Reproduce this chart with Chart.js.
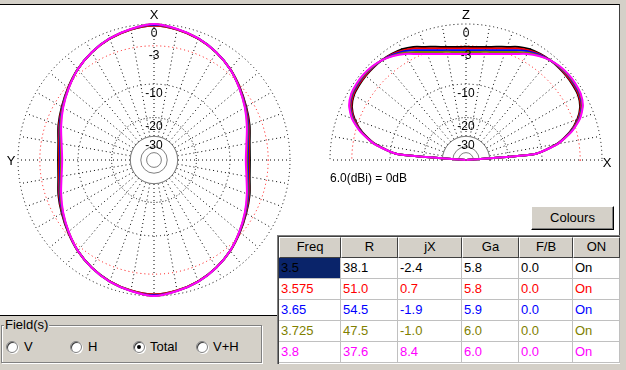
<!DOCTYPE html>
<html>
<head>
<meta charset="utf-8">
<title>Pattern</title>
<script src="https://cdn.jsdelivr.net/npm/chart.js@4.4.1/dist/chart.umd.min.js"></script>
<style>
  body { margin: 0; width: 626px; height: 370px; overflow: hidden; position: relative;
         background: #d4d0c8; font-family: "Liberation Sans", Arial, sans-serif; font-size: 13px; color: #000; }
  .white { position: absolute; background: #fff; }
  .lbl { position: absolute; transform: translate(-50%, -50%); font-size: 13px; line-height: 13px; white-space: nowrap; }
  #elevBox { position: absolute; left: 322px; top: 16px; width: 288px; height: 145px; overflow: hidden; }
  #elCanvas { position: absolute; left: 0; top: 0; }
  #azCanvas { position: absolute; left: 10px; top: 16px; }
  #table { position: absolute; left: 277px; top: 235px; width: 343px; height: 129px;
           border-top: 1px solid #808080; border-left: 1px solid #808080; background: #fff; box-sizing: border-box;
           box-shadow: inset 1px 1px 0 #404040; }
  .cell { position: absolute; box-sizing: border-box; border-right: 1px solid #c0c0c0; border-bottom: 1px solid #c0c0c0;
          padding-left: 2px; line-height: 20px; white-space: nowrap; overflow: hidden; }
  .head { background: #d4d0c8; text-align: center; padding-left: 0; line-height: 18px;
          border-top: 1px solid #fff; border-left: 1px solid #fff; border-right: 1px solid #404040; border-bottom: 1px solid #404040; }
  #colours { position: absolute; left: 531px; top: 206px; width: 83px; height: 24px; box-sizing: border-box;
             background: #d4d0c8; border-top: 1px solid #fff; border-left: 1px solid #fff;
             border-right: 1px solid #000; border-bottom: 1px solid #000; box-shadow: inset -1px -1px 0 #808080;
             text-align: center; line-height: 21px; }
  #group { position: absolute; left: 1px; top: 325px; width: 261px; height: 38px; box-sizing: border-box;
           border: 1px solid #808080; box-shadow: 1px 1px 0 #fff, inset 1px 1px 0 #fff; }
  #groupTitle { position: absolute; left: 4px; top: 318px; background: #d4d0c8; padding: 0 1px; line-height: 14px; }
  .radio { position: absolute; width: 12px; height: 12px; border-radius: 50%; box-sizing: border-box; background: #fff;
           border: 1px solid #808080; box-shadow: inset 1px 1px 0 #404040, 1px 1px 0 #fff; }
  .radio.on::after { content: ""; position: absolute; left: 3px; top: 3px; width: 4px; height: 4px; border-radius: 50%; background: #000; }
  .rtext { position: absolute; line-height: 14px; }
</style>
</head>
<body>
<div class="white" style="left:0;top:4px;width:620px;height:232px;border-top:1px solid #000;border-right:1px solid #404040;box-sizing:border-box"></div>
<div class="white" style="left:0;top:5px;width:278px;height:311px;border-bottom:1px solid #000;box-sizing:border-box"></div>

<canvas id="azCanvas" width="288" height="288"></canvas>
<div id="elevBox"><canvas id="elCanvas" width="288" height="288"></canvas></div>

<div class="lbl" style="left:154px;top:14px">X</div>
<div class="lbl" style="left:11px;top:160px">Y</div>
<div class="lbl" style="left:466px;top:14px">Z</div>
<div class="lbl" style="left:607px;top:162px">X</div>
<div class="lbl" style="left:330px;top:178px;transform:translate(0,-50%);font-size:12px">6.0(dBi) = 0dB</div>

<div id="colours">Colours</div>
<div id="table"></div>

<div id="group"></div>
<div id="groupTitle">Field(s)</div>
<div class="radio" style="left:6px;top:341px"></div><div class="rtext" style="left:24px;top:340px">V</div>
<div class="radio" style="left:70px;top:341px"></div><div class="rtext" style="left:88px;top:340px">H</div>
<div class="radio on" style="left:133px;top:341px"></div><div class="rtext" style="left:150px;top:340px">Total</div>
<div class="radio" style="left:196px;top:341px"></div><div class="rtext" style="left:213px;top:340px">V+H</div>

<script>
// gain in dB relative to 6.0 dBi, one value every 10 deg of azimuth starting at X
const azimuthDeg = [0,10,20,30,40,50,60,70,80,90,100,110,120,130,140,150,160,170,
                    180,190,200,210,220,230,240,250,260,270,280,290,300,310,320,330,340,350];
const az35 = [-0.2,-0.45,-0.9,-1.55,-2.35,-3.3,-4.2,-4.98,-5.77,-6.0,-5.77,-4.98,-4.2,-3.3,-2.35,-1.55,-0.9,-0.45,
              -0.2,-0.45,-0.9,-1.55,-2.35,-3.3,-4.2,-4.98,-5.77,-6.0,-5.77,-4.98,-4.2,-3.3,-2.35,-1.55,-0.9,-0.45];
const az3575 = [-0.2,-0.45,-0.9,-1.55,-2.35,-3.33,-4.27,-5.1,-5.92,-6.2,-5.92,-5.1,-4.27,-3.33,-2.35,-1.55,-0.9,-0.45,
                -0.2,-0.45,-0.9,-1.55,-2.35,-3.33,-4.27,-5.1,-5.92,-6.2,-5.92,-5.1,-4.27,-3.33,-2.35,-1.55,-0.9,-0.45];
const az365 = [-0.1,-0.4,-0.86,-1.52,-2.36,-3.37,-4.33,-5.22,-6.07,-6.38,-6.07,-5.22,-4.33,-3.37,-2.36,-1.52,-0.86,-0.4,
               -0.1,-0.4,-0.86,-1.52,-2.36,-3.37,-4.33,-5.22,-6.07,-6.38,-6.07,-5.22,-4.33,-3.37,-2.36,-1.52,-0.86,-0.4];
const az3725 = [0,-0.4,-0.85,-1.52,-2.37,-3.4,-4.4,-5.35,-6.22,-6.56,-6.22,-5.35,-4.4,-3.4,-2.37,-1.52,-0.85,-0.4,
                0,-0.4,-0.85,-1.52,-2.37,-3.4,-4.4,-5.35,-6.22,-6.56,-6.22,-5.35,-4.4,-3.4,-2.37,-1.52,-0.85,-0.4];
const az38 = [0,-0.38,-0.84,-1.52,-2.37,-3.42,-4.46,-5.48,-6.37,-6.74,-6.37,-5.48,-4.46,-3.42,-2.37,-1.52,-0.84,-0.38,
              0,-0.38,-0.84,-1.52,-2.37,-3.42,-4.46,-5.48,-6.37,-6.74,-6.37,-5.48,-4.46,-3.42,-2.37,-1.52,-0.84,-0.38];

// gain in dB every 5 deg of elevation, from the horizon (X side) over Z to the other horizon
const elevationDeg = [0,5,10,15,20,25,30,35,40,45,50,55,60,65,70,75,80,85,90,
                      95,100,105,110,115,120,125,130,135,140,145,150,155,160,165,170,175,180];
const el35 = [-99,-11.6,-6.65,-4.05,-2.37,-1.32,-0.84,-0.71,-0.65,-0.65,-0.71,-0.84,-1.05,-1.48,-2.1,-2.56,-2.91,-3.1,-3.16,
              -3.1,-2.91,-2.56,-2.1,-1.48,-1.05,-0.84,-0.71,-0.65,-0.65,-0.71,-0.84,-1.32,-2.37,-4.05,-6.65,-11.6,-99];
const el3575 = [-99,-11.6,-6.61,-3.97,-2.26,-1.21,-0.74,-0.61,-0.58,-0.61,-0.71,-0.91,-1.25,-1.73,-2.36,-2.83,-3.16,-3.36,-3.42,
                -3.36,-3.16,-2.83,-2.36,-1.73,-1.25,-0.91,-0.71,-0.61,-0.58,-0.61,-0.74,-1.21,-2.26,-3.97,-6.61,-11.6,-99];
const el365 = [-99,-11.6,-6.56,-3.89,-2.14,-1.07,-0.61,-0.5,-0.47,-0.55,-0.71,-1.0,-1.41,-2.0,-2.62,-3.09,-3.42,-3.63,-3.69,
               -3.63,-3.42,-3.09,-2.62,-2.0,-1.41,-1.0,-0.71,-0.55,-0.47,-0.5,-0.61,-1.07,-2.14,-3.89,-6.56,-11.6,-99];
const el3725 = [-99,-11.6,-6.5,-3.82,-2.04,-0.99,-0.53,-0.41,-0.4,-0.5,-0.74,-1.11,-1.61,-2.26,-2.87,-3.35,-3.67,-3.88,-3.94,
                -3.88,-3.67,-3.35,-2.87,-2.26,-1.61,-1.11,-0.74,-0.5,-0.4,-0.41,-0.53,-0.99,-2.04,-3.82,-6.5,-11.6,-99];
const el38 = [-99,-11.6,-6.46,-3.74,-1.94,-0.91,-0.45,-0.32,-0.32,-0.45,-0.71,-1.18,-1.8,-2.58,-3.19,-3.67,-4.01,-4.2,-4.26,
              -4.2,-4.01,-3.67,-3.19,-2.58,-1.8,-1.18,-0.71,-0.45,-0.32,-0.32,-0.45,-0.91,-1.94,-3.74,-6.46,-11.6,-99];

// scale rings (dB) and their labels
const ringDb = [-50, -40, -30, -20, -10, -3, 0];
const ringLabels = ['', '', '-30', '-20', '-10', '-3', '0'];

// table
const tableFreq = ['3.5', '3.575', '3.65', '3.725', '3.8'];
const tableR = ['38.1', '51.0', '54.5', '47.5', '37.6'];
const tableJX = ['-2.4', '0.7', '-1.9', '-1.0', '8.4'];
const tableGa = ['5.8', '5.8', '5.9', '6.0', '6.0'];
const tableFB = ['0.0', '0.0', '0.0', '0.0', '0.0'];
const tableOn = ['On', 'On', 'On', 'On', 'On'];
const tableHead = ['Freq', 'R', 'jX', 'Ga', 'F/B', 'ON'];
const traceColours = ['#000000', '#ff0000', '#0000ff', '#808000', '#ff00ff'];

// ARRL style log scale: 0.89 per 2 dB
function toR(db) {
    return Math.pow(0.89, -db / 2);
}

function ringColour(i) {
    const db = ringDb[i - 1];
    if (db === -3) return '#ff0000';
    if (db <= -30) return '#808080';
    return '#000000';
}

function ringDash(i) {
    const db = ringDb[i - 1];
    if (db <= -30) return [];
    if (db === -20) return [1, 2];
    return [1, 3];
}

// blank the spokes inside the -30 dB ring, keep the small grey rings
const centreDisk = {
    id: 'centreDisk',
    beforeDatasetsDraw(chart) {
        const s = chart.scales.r;
        const ctx = chart.ctx;
        ctx.save();
        ctx.fillStyle = '#ffffff';
        ctx.beginPath();
        ctx.arc(s.xCenter, s.yCenter, s.getDistanceFromCenterForValue(toR(-30)), 0, Math.PI * 2);
        ctx.fill();
        ctx.strokeStyle = '#808080';
        ctx.lineWidth = 1;
        ringDb.filter(d => d <= -30).forEach(d => {
            ctx.beginPath();
            ctx.arc(s.xCenter, s.yCenter, s.getDistanceFromCenterForValue(toR(d)), 0, Math.PI * 2);
            ctx.stroke();
        });
        ctx.restore();
    }
};

function radarOptions(angleColour, tension) {
    return {
        responsive: false,
        animation: false,
        plugins: { legend: { display: false }, tooltip: { enabled: false } },
        elements: { point: { radius: 0 }, line: { tension: tension, borderWidth: 2, fill: false } },
        scales: {
            r: {
                min: 0,
                max: 1,
                afterBuildTicks: scale => {
                    scale.ticks = [{ value: 0 }].concat(ringDb.map(d => ({ value: toR(d) })));
                },
                ticks: {
                    z: 1,
                    showLabelBackdrop: false,
                    color: '#000',
                    font: { family: '"Liberation Sans", Arial, sans-serif', size: 12, lineHeight: '9.5px' },
                    callback: (v, i) => (i > 0 && ringLabels[i - 1]) ? ['', ringLabels[i - 1]] : ''
                },
                grid: { circular: true, lineWidth: 1, color: c => ringColour(c.index) },
                border: { dash: c => ringDash(c.index) },
                angleLines: { lineWidth: 1, color: angleColour, borderDash: [1, 3] },
                pointLabels: { display: false }
            }
        }
    };
}

// put the scale centre on a given page point
function placeCentre(chart, el, cx, cy, originX, originY) {
    const s = chart.scales.r;
    el.style.left = (cx - originX - s.xCenter) + 'px';
    el.style.top = (cy - originY - s.yCenter) + 'px';
}

const azSeries = [az35, az3575, az365, az3725, az38];
const azCanvas = document.getElementById('azCanvas');
const azChart = new Chart(azCanvas, {
    type: 'radar',
    data: {
        labels: azimuthDeg,
        datasets: azSeries.map((arr, k) => ({
            label: tableFreq[k],
            data: arr.map(toR),
            borderColor: traceColours[k],
            order: 5 - k,
            spanGaps: false
        }))
    },
    options: radarOptions('#000000', 0.3),
    plugins: [centreDisk]
});
placeCentre(azChart, azCanvas, 154, 160, 0, 0);

// elevation plot: full radar with 5 deg slots, only the upper half is shown
const slotLabels = Array.from({ length: 72 }, (_, i) => i * 5);
function toSlots(arr) {
    const out = new Array(72).fill(null);
    elevationDeg.forEach((e, k) => {
        const i = e <= 90 ? (90 - e) / 5 : 72 - (e - 90) / 5;
        out[i] = toR(arr[k]);
    });
    return out;
}
const elSeries = [el35, el3575, el365, el3725, el38];
const elCanvas = document.getElementById('elCanvas');
const elChart = new Chart(elCanvas, {
    type: 'radar',
    data: {
        labels: slotLabels,
        datasets: elSeries.map((arr, k) => ({
            label: tableFreq[k],
            data: toSlots(arr),
            borderColor: traceColours[k],
            order: 5 - k,
            spanGaps: false
        }))
    },
    options: radarOptions(c => c.index % 2 === 0 ? '#000000' : 'rgba(0,0,0,0)', 0.2),
    plugins: [centreDisk]
});
placeCentre(elChart, elCanvas, 466, 160, 322, 16);

// table
const table = document.getElementById('table');
const colW = [62, 57, 64, 57, 54, 47];
const columns = [tableFreq, tableR, tableJX, tableGa, tableFB, tableOn];
let x = 1;
colW.forEach((w, c) => {
    const h = document.createElement('div');
    h.className = 'cell head';
    h.style.left = x + 'px';
    h.style.top = '1px';
    h.style.width = w + 'px';
    h.style.height = '21px';
    h.textContent = tableHead[c];
    table.appendChild(h);
    columns[c].forEach((val, r) => {
        const d = document.createElement('div');
        d.className = 'cell';
        d.style.left = x + 'px';
        d.style.top = (22 + r * 21) + 'px';
        d.style.width = w + 'px';
        d.style.height = '21px';
        d.style.color = traceColours[r];
        if (r === 0 && c === 0) d.style.background = '#0a246a';
        d.textContent = val;
        table.appendChild(d);
    });
    x += w;
});
</script>
</body>
</html>
